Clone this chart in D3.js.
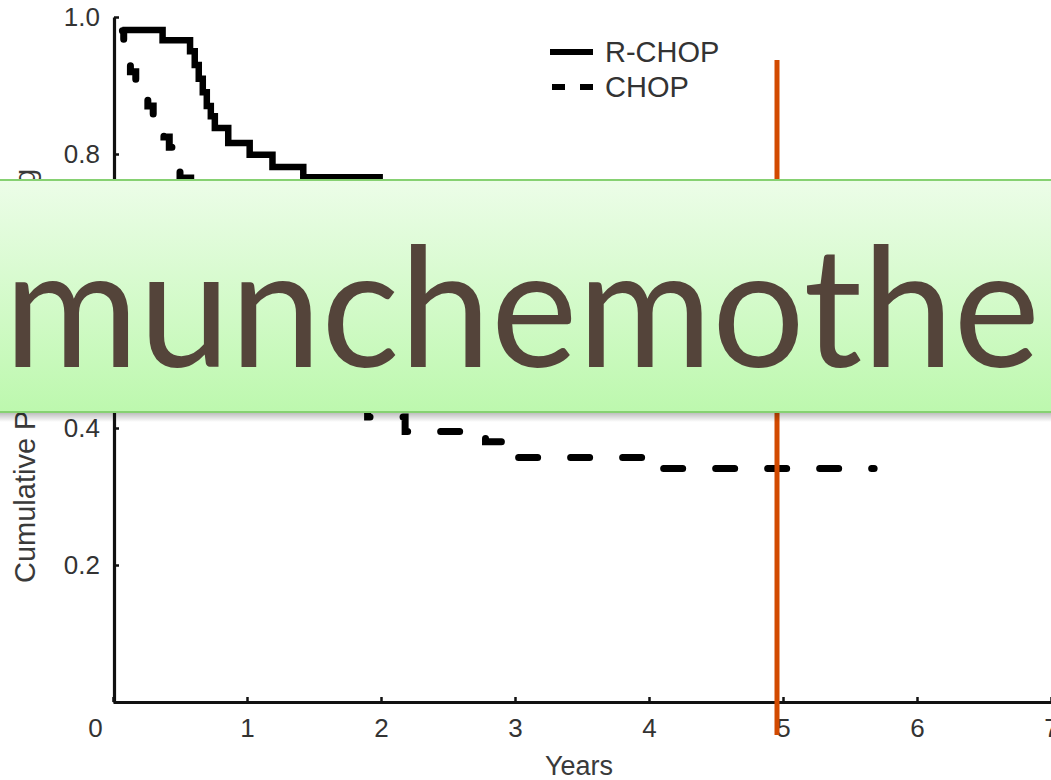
<!DOCTYPE html>
<html>
<head>
<meta charset="utf-8">
<script src="https://cdn.jsdelivr.net/npm/d3@7"></script>
<style>
  html, body { margin: 0; padding: 0; background: #ffffff; overflow: hidden; }
  svg { display: block; }
</style>
</head>
<body>
<svg id="chart" width="1051" height="780"></svg>
<script>
// ---- data ----
const xTickValues = [0, 1, 2, 3, 4, 5, 6, 7];
const yTickValues = [0.2, 0.4, 0.8, 1.0];   // 0.6 is hidden behind the banner in the reference
const seriesNames = ["R-CHOP", "CHOP"];

// R-CHOP (solid) step curve: time (years), cumulative proportion
const rchopTimes = [0.07, 0.37, 0.575, 0.61, 0.64, 0.67, 0.70, 0.73, 0.76, 0.86, 1.02, 1.19, 1.42, 1.99, 2.3, 2.8, 3.4, 4.0, 5.7];
const rchopSurv  = [0.981, 0.966, 0.95, 0.93, 0.91, 0.89, 0.87, 0.855, 0.838, 0.816, 0.799, 0.781, 0.766, 0.72, 0.69, 0.67, 0.655, 0.64, 0.64];

// CHOP (dashed) step curve
const chopTimes = [0.07, 0.08, 0.10, 0.13, 0.17, 0.21, 0.26, 0.30, 0.34, 0.38, 0.42, 0.48, 0.50, 0.58, 0.70, 0.85, 1.0, 1.15, 1.35, 1.55, 1.75, 1.90, 2.18, 2.78, 2.92, 4.01, 5.68];
const chopSurv  = [0.98, 0.96, 0.94, 0.92, 0.90, 0.885, 0.87, 0.855, 0.84, 0.825, 0.81, 0.79, 0.765, 0.74, 0.70, 0.65, 0.60, 0.56, 0.52, 0.49, 0.46, 0.416, 0.395, 0.38, 0.357, 0.341, 0.341];

const markerYear = [5];
const bannerText = ["munchemothe"];
const axisTitles = ["Years", "Cumulative Proportion Surviving"];

// ---- drawing ----
const svg = d3.select("#chart");
const W = 1051, H = 780;

const x = d3.scaleLinear().domain([0, 7]).range([113, 1051]);
const y = d3.scaleLinear().domain([0, 1]).range([702, 17]);

const axisFont = "'Liberation Sans', Arial, Helvetica, sans-serif";
const textColor = "#333";

// x axis
const gx = svg.append("g")
  .attr("transform", `translate(0,${y(0)})`)
  .call(d3.axisBottom(x).tickValues(xTickValues).tickSize(-5).tickSizeOuter(0).tickPadding(17).tickFormat(d3.format("d")));
gx.select(".domain").attr("stroke", "#111").attr("stroke-width", 3.2);
gx.selectAll(".tick line").attr("stroke", "#111").attr("stroke-width", 2.5);
gx.selectAll(".tick text")
  .attr("font-family", axisFont).attr("font-size", 26).attr("fill", textColor)
  .attr("dx", d => d === 0 ? -18 : 0);

// y axis
const gy = svg.append("g")
  .attr("transform", `translate(${x(0) + 1},0)`)
  .call(d3.axisLeft(y).tickValues(yTickValues).tickSize(-5).tickSizeOuter(0).tickPadding(14).tickFormat(d3.format(".1f")));
gy.select(".domain").attr("stroke", "#111").attr("stroke-width", 3.2);
gy.selectAll(".tick line").attr("stroke", "#111").attr("stroke-width", 2.5);
gy.selectAll(".tick text")
  .attr("font-family", axisFont).attr("font-size", 26).attr("fill", textColor);

// axis titles
svg.append("text")
  .attr("x", 579).attr("y", 775)
  .attr("text-anchor", "middle")
  .attr("font-family", axisFont).attr("font-size", 27).attr("fill", "#3a3a3a")
  .text(axisTitles[0]);

svg.append("text")
  .attr("transform", `translate(35,583) rotate(-90)`)
  .attr("text-anchor", "start")
  .attr("font-family", axisFont).attr("font-size", 29).attr("fill", "#3a3a3a")
  .text(axisTitles[1]);

// curves
const line = d3.line().x(d => x(d[0])).y(d => y(d[1])).curve(d3.curveStepAfter);
const rchopData = rchopTimes.map((t, i) => [t, rchopSurv[i]]);
const chopData = chopTimes.map((t, i) => [t, chopSurv[i]]);

svg.append("path")
  .datum(rchopData)
  .attr("d", line)
  .attr("fill", "none").attr("stroke", "#000").attr("stroke-width", 6.5)
  .attr("stroke-linejoin", "miter");

svg.append("path")
  .datum(chopData)
  .attr("d", line)
  .attr("fill", "none").attr("stroke", "#000").attr("stroke-width", 7)
  .attr("stroke-linecap", "round")
  .attr("stroke-dasharray", "19,33")
  .attr("stroke-dashoffset", 9);

// legend
const legend = svg.append("g").attr("font-family", axisFont).attr("font-size", 29).attr("fill", textColor);
legend.append("line").attr("x1", 550).attr("x2", 593).attr("y1", 52).attr("y2", 52)
  .attr("stroke", "#000").attr("stroke-width", 6);
legend.append("line").attr("x1", 552).attr("x2", 595).attr("y1", 87).attr("y2", 87)
  .attr("stroke", "#000").attr("stroke-width", 6).attr("stroke-dasharray", "13,15");
legend.append("text").attr("x", 605).attr("y", 62).text(seriesNames[0]);
legend.append("text").attr("x", 605).attr("y", 97).text(seriesNames[1]);

// orange marker line at 5 years
svg.append("line")
  .attr("x1", x(markerYear[0]) - 6).attr("x2", x(markerYear[0]) - 6)
  .attr("y1", 60).attr("y2", 735)
  .attr("stroke", "#d24a00").attr("stroke-width", 5);

// banner overlay
const defs = svg.append("defs");
const grad = defs.append("linearGradient").attr("id", "bannerGrad").attr("x1", 0).attr("x2", 0).attr("y1", 0).attr("y2", 1);
grad.append("stop").attr("offset", "0%").attr("stop-color", "#ecfde8");
grad.append("stop").attr("offset", "100%").attr("stop-color", "#bdf8ae");
const shadow = defs.append("linearGradient").attr("id", "shadowGrad").attr("x1", 0).attr("x2", 0).attr("y1", 0).attr("y2", 1);
shadow.append("stop").attr("offset", "0%").attr("stop-color", "#000").attr("stop-opacity", 0.28);
shadow.append("stop").attr("offset", "100%").attr("stop-color", "#000").attr("stop-opacity", 0);

svg.append("rect").attr("x", 0).attr("y", 412).attr("width", W).attr("height", 10).attr("fill", "url(#shadowGrad)");
svg.append("rect").attr("x", -2).attr("y", 180).attr("width", W + 4).attr("height", 232)
  .attr("fill", "url(#bannerGrad)").attr("stroke", "#86d172").attr("stroke-width", 2);

svg.append("text")
  .attr("x", 4).attr("y", 367)
  .attr("font-family", "Lato, 'Open Sans', sans-serif").attr("font-size", 166)
  .attr("fill", "#54443a")
  .attr("textLength", 1036).attr("lengthAdjust", "spacingAndGlyphs")
  .text(bannerText[0]);
</script>
</body>
</html>
